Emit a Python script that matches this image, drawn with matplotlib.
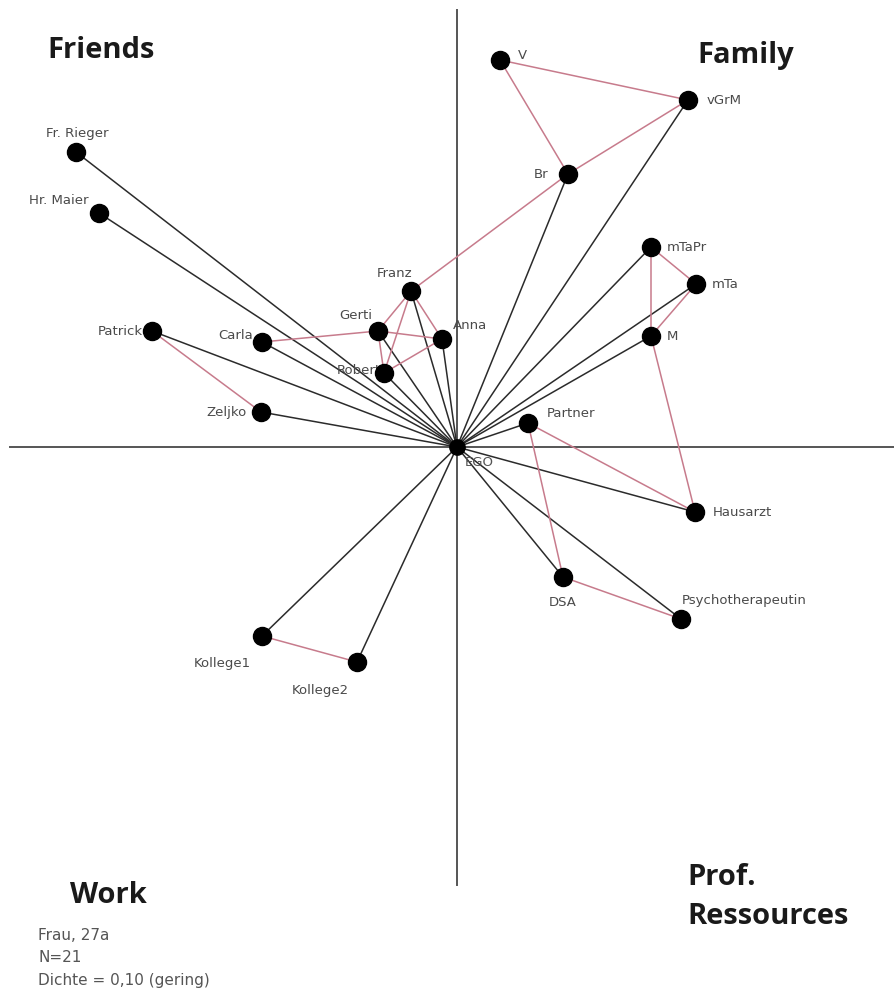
import matplotlib.pyplot as plt

# Netzwerkkarte (Ego-zentriert), Koordinaten relativ zu EGO (x rechts, y oben)
names = ["V", "vGrM", "Br", "mTaPr", "mTa", "M", "Partner", "Hausarzt", "DSA",
         "Psychotherapeutin", "Kollege1", "Kollege2", "Zeljko", "Patrick",
         "Carla", "Gerti", "Franz", "Anna", "Robert", "Fr. Rieger", "Hr. Maier"]
xs = [43, 231, 111, 194, 239, 194, 71, 238, 106, 224, -195, -100, -196, -305,
      -195, -79, -46, -15, -73, -381, -358]
ys = [387, 347, 273, 200, 163, 111, 24, -65, -130, -172, -189, -215, 35, 116,
      105, 116, 156, 108, 74, 295, 234]

# direkte Verbindungen zu EGO
ego_links = ["vGrM", "Br", "mTaPr", "mTa", "M", "Partner", "Hausarzt", "DSA",
             "Psychotherapeutin", "Kollege1", "Kollege2", "Zeljko", "Patrick",
             "Carla", "Gerti", "Franz", "Anna", "Robert", "Fr. Rieger", "Hr. Maier"]

# Verbindungen zwischen Alteri
alter_links = [("V", "vGrM"), ("V", "Br"), ("Br", "vGrM"), ("Br", "Franz"),
               ("mTaPr", "mTa"), ("mTaPr", "M"), ("mTa", "M"), ("M", "Hausarzt"),
               ("Partner", "Hausarzt"), ("Partner", "DSA"),
               ("DSA", "Psychotherapeutin"), ("Kollege1", "Kollege2"),
               ("Patrick", "Zeljko"), ("Carla", "Gerti"), ("Gerti", "Anna"),
               ("Franz", "Gerti"), ("Franz", "Robert"), ("Franz", "Anna"),
               ("Gerti", "Robert"), ("Robert", "Anna")]

quadrants = ["Friends", "Family", "Work", "Prof.\nRessources"]
notes = ["Frau, 27a", "N=21", "Dichte = 0,10 (gering)"]

pos = {n: (x, y) for n, x, y in zip(names, xs, ys)}

# Label-Platzierung: (dx, dy, ha)
lab = {
    "V": (18, 5, "left"), "vGrM": (19, 0, "left"), "Br": (-20, 0, "right"),
    "mTaPr": (16, 0, "left"), "mTa": (16, 0, "left"), "M": (16, 0, "left"),
    "Partner": (19, 10, "left"), "Hausarzt": (18, 0, "left"),
    "DSA": (0, -25, "center"), "Psychotherapeutin": (1, 19, "left"),
    "Kollege1": (-40, -27, "center"), "Kollege2": (-37, -28, "center"),
    "Zeljko": (-14, 0, "right"), "Patrick": (-9, 0, "right"),
    "Carla": (-9, 7, "right"), "Gerti": (-6, 16, "right"),
    "Franz": (-16, 18, "center"), "Anna": (11, 14, "left"),
    "Robert": (-3, 3, "right"), "Fr. Rieger": (1, 19, "center"),
    "Hr. Maier": (-40, 13, "center"),
}

fig = plt.figure(figsize=(8.95, 9.96), dpi=100)
ax = fig.add_axes([0, 0, 1, 1])
ax.set_xlim(-457, 438)
ax.set_ylim(-549, 447)
ax.axis("off")

# Achsenkreuz
ax.plot([0, 0], [437, -438], color="#555555", lw=1.4, zorder=1)
ax.plot([-447, 438], [0, 0], color="#555555", lw=1.4, zorder=1)

for n in ego_links:
    x, y = pos[n]
    ax.plot([0, x], [0, y], color="#2b2b2b", lw=1.1, zorder=2)

for a, b in alter_links:
    (x1, y1), (x2, y2) = pos[a], pos[b]
    ax.plot([x1, x2], [y1, y2], color="#c77b8c", lw=1.1, zorder=3)

ax.plot(xs, ys, "o", color="black", markersize=13, zorder=5)
ax.plot([0], [0], "o", color="black", markersize=11, zorder=5)
ax.text(8, -15, "EGO", fontsize=9.5, color="#555555", ha="left", va="center", zorder=4)

for n in names:
    dx, dy, ha = lab[n]
    x, y = pos[n]
    ax.text(x + dx, y + dy, n, fontsize=9.5, color="#4a4a4a", ha=ha, va="center", zorder=4)

qfont = dict(fontsize=21, fontweight="bold", color="#1a1a1a", family="Open Sans")
ax.text(-410, 397, quadrants[0], ha="left", va="center", **qfont)
ax.text(240, 392, quadrants[1], ha="left", va="center", **qfont)
ax.text(-387, -448, quadrants[2], ha="left", va="center", **qfont)
ax.text(230, -450, quadrants[3], ha="left", va="center", linespacing=1.45, **qfont)

for i, t in enumerate(notes):
    ax.text(-419, -488 - i * 22.5, t, fontsize=11, color="#555555", ha="left", va="center")

fig.savefig("out.png", dpi=100)
